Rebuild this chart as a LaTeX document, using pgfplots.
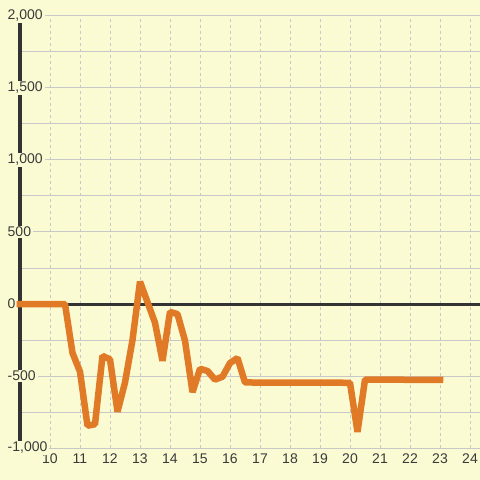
\documentclass[border=0pt]{standalone}
\usepackage{pgfplots}
\pgfplotsset{compat=1.18}
\usepackage{fontspec}
\setmainfont{Liberation Sans}
\definecolor{bg}{HTML}{FBFBD3}
\definecolor{gridc}{HTML}{C8C8C8}
\definecolor{txt}{HTML}{3A3A3A}
\definecolor{axc}{HTML}{333333}
\definecolor{orng}{HTML}{E07A26}
\begin{document}
\begin{tikzpicture}
\fill[bg] (-20bp,-32bp) rectangle (460bp,448bp);
\begin{axis}[
  at={(0,0)}, anchor=south west,
  scale only axis, width=460bp, height=432bp,
  xmin=9, xmax=24.3333, ymin=-1000, ymax=2000,
  axis lines*=left,
  x axis line style={draw=none},
  y axis line style={axc, line width=3bp},
  xtick={10,...,24},
  ytick={-1000,-500,...,2000},
  minor ytick={-750,-250,...,1750},
  major tick length=0pt, minor tick length=0pt,
  xmajorgrids, ymajorgrids, yminorgrids,
  every axis x grid/.style={gridc, line width=1bp, dash pattern=on 3bp off 3bp},
  every axis y grid/.style={gridc, line width=1bp},
  yticklabel style={anchor=west, xshift=-14.5bp, fill=bg, inner xsep=2bp, inner ysep=1.5bp,
     font=\fontsize{14bp}{16bp}\selectfont, text=txt},
  xticklabel style={font=\fontsize{14bp}{16bp}\selectfont, text=txt, yshift=-2bp},
  /pgf/number format/1000 sep={,},
  /pgf/number format/assume math mode=true,
  clip=false,
]
\addplot[axc, line width=3bp, forget plot] coordinates {(9,0) (24.3333,0)};
\addplot[orng, line width=6.5bp, line join=bevel, line cap=rect] coordinates {
(9,0) (10.5,0) (10.75,-340) (11,-470) (11.25,-845) (11.5,-835)
(11.75,-360) (12,-385) (12.25,-748) (12.5,-545) (12.75,-250) (13,155)
(13.5,-130) (13.75,-395) (14,-55) (14.25,-70) (14.5,-255) (14.75,-612)
(15,-450) (15.25,-465) (15.5,-525) (15.75,-505) (16,-410) (16.25,-375)
(16.5,-545) (20,-547) (20.25,-888) (20.5,-525) (23,-527)
};
\end{axis}
\pgfresetboundingbox
\useasboundingbox (-20bp,-32bp) rectangle (460bp,448bp);
\end{tikzpicture}
\end{document}
